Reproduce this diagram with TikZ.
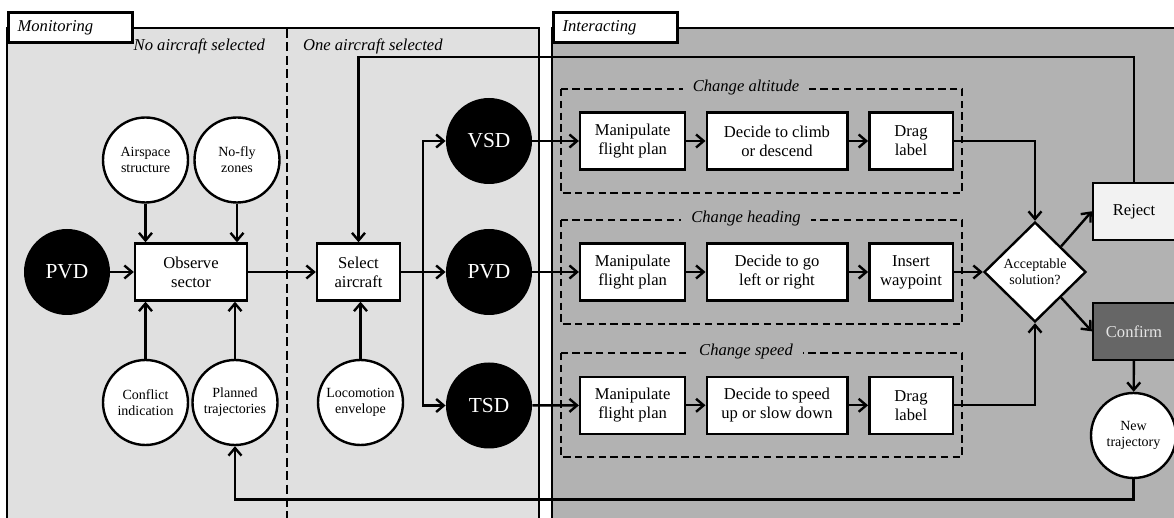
\documentclass[tikz,border=0pt]{standalone}
\usepackage{fontspec}
\setmainfont{Liberation Serif}
\usetikzlibrary{arrows.meta,shapes.geometric}

\definecolor{monitorgray}{gray}{0.88}
\definecolor{interactgray}{gray}{0.70}
\definecolor{rejectgray}{gray}{0.95}
\definecolor{confirmgray}{gray}{0.40}

\begin{document}
\begin{tikzpicture}[x=0.5pt,y=-0.5pt,
  flow/.style={line width=1.2pt,-{Straight Barb[length=3.8pt,width=6.5pt]}},
  stepbox/.style={draw,fill=white,line width=1.2pt,minimum height=28.5pt,inner sep=0pt,align=center,font=\fontsize{8.3}{9.6}\selectfont},
  source/.style={circle,draw,fill=white,line width=1.2pt,minimum size=42.5pt,inner sep=0pt,align=center,font=\fontsize{7}{8}\selectfont},
  display/.style={circle,fill=black,text=white,minimum size=43pt,inner sep=0pt,font=\fontsize{10.7}{12}\selectfont},
  decision/.style={diamond,draw,fill=white,line width=1.2pt,minimum width=51pt,minimum height=50pt,inner sep=0pt,align=center,font=\fontsize{7}{8}\selectfont},
  tab/.style={draw,fill=white,line width=1.6pt,minimum height=15pt,text width=53pt,inner xsep=4.5pt,align=left,anchor=north west,font=\fontsize{8.3}{10}\selectfont\itshape},
  groupbox/.style={line width=0.9pt,dash pattern=on 3.7pt off 2.2pt},
  grouplabel/.style={fill=interactgray,inner xsep=5pt,inner ysep=1pt,font=\fontsize{8.3}{10}\selectfont\itshape},
  phase/.style={font=\fontsize{8.3}{10}\selectfont\itshape}
]
\clip (0,0) rectangle (1174,518);

% panels
\draw[line width=1.2pt,fill=monitorgray] (7,28) rectangle (539,540);
\draw[line width=1.2pt,fill=interactgray] (552,28) rectangle (1200,540);
\node[tab] (montab) at (7,11) {Monitoring};
\node[tab] (inttab) at (552,11) {Interacting};
\draw[line width=1.1pt,dash pattern=on 4.5pt off 2.2pt] (287,29) -- (287,518);
\node[phase,anchor=east] (nosel) at (272,46) {No aircraft selected};
\node[phase,anchor=west] (onesel) at (296,46) {One aircraft selected};

% interaction groups
\draw[groupbox] (561,89) rectangle (962,193);
\draw[groupbox] (561,220) rectangle (962,324);
\draw[groupbox] (561,353) rectangle (962,457);
\node[grouplabel] (altlabel) at (746,88) {Change altitude};
\node[grouplabel] (headlabel) at (746,219) {Change heading};
\node[grouplabel] (speedlabel) at (746,352) {Change speed};

% monitoring
\node[display] (pvdl) at (67,272) {PVD};
\node[stepbox,minimum width=56pt] (observe) at (191,272) {Observe\\sector};
\node[source] (airspace) at (145.5,160) {Airspace\\structure};
\node[source] (nofly) at (237,160) {No-fly\\zones};
\node[source] (conflict) at (145.5,402.5) {Conflict\\indication};
\node[source] (planned) at (235,402.5) {Planned\\trajectories};
\node[stepbox,minimum width=41.5pt] (select) at (358.5,272) {Select\\aircraft};
\node[source] (loco) at (360.5,402.5) {Locomotion\\envelope};
\node[display] (vsd) at (489,141) {VSD};
\node[display] (pvdr) at (489,272) {PVD};
\node[display] (tsd) at (489,405.5) {TSD};
\coordinate (split) at (423,272);

% interacting
\node[stepbox,minimum width=52.5pt] (manipa) at (632.6,141) {Manipulate\\flight plan};
\node[stepbox,minimum width=70.3pt] (climb) at (777,141) {Decide to climb\\or descend};
\node[stepbox,minimum width=41.7pt] (draga) at (911,141) {Drag\\label};
\node[stepbox,minimum width=52.5pt] (manipb) at (632.6,272) {Manipulate\\flight plan};
\node[stepbox,minimum width=70.3pt] (turn) at (777,272) {Decide to go\\left or right};
\node[stepbox,minimum width=41.7pt] (insert) at (911,272) {Insert\\waypoint};
\node[stepbox,minimum width=52.5pt] (manipc) at (632.6,405.3) {Manipulate\\flight plan};
\node[stepbox,minimum width=70.3pt] (speed) at (777,405.3) {Decide to speed\\up or slow down};
\node[stepbox,minimum width=41.7pt] (dragc) at (911,405.3) {Drag\\label};
\node[decision] (accept) at (1035,272) {Acceptable\\solution?};
\node[stepbox,minimum width=41pt,fill=rejectgray] (reject) at (1134,211.3) {Reject};
\node[stepbox,minimum width=41pt,fill=confirmgray,text=white!90!black] (confirm) at (1134,331.3) {Confirm};
\node[source] (newtraj) at (1133.5,435.5) {New\\trajectory};
\coordinate (topline) at (0,57.3);
\coordinate (botline) at (0,499.5);

% connectors
\draw[flow] (pvdl) -- (observe);
\draw[flow] (airspace) -- (airspace |- observe.north);
\draw[flow] (nofly) -- (nofly |- observe.north);
\draw[flow] (conflict) -- (conflict |- observe.south);
\draw[flow] (planned) -- (planned |- observe.south);
\draw[flow] (observe) -- (select);
\draw[flow] (loco) -- (loco |- select.south);
\draw[flow] (select) -- (pvdr);
\draw[flow] (split) |- (vsd);
\draw[flow] (split) |- (tsd);

\draw[flow] (vsd) -- (manipa);
\draw[flow] (manipa) -- (climb);
\draw[flow] (climb) -- (draga);
\draw[flow] (pvdr) -- (manipb);
\draw[flow] (manipb) -- (turn);
\draw[flow] (turn) -- (insert);
\draw[flow] (tsd) -- (manipc);
\draw[flow] (manipc) -- (speed);
\draw[flow] (speed) -- (dragc);

\draw[flow] (draga.east) -| (accept.north);
\draw[flow] (insert) -- (accept);
\draw[flow] (dragc.east) -| (accept.south);
\draw[flow] (accept.north east) -- (reject.west);
\draw[flow] (accept.south east) -- (confirm.west);
\draw[flow] (confirm) -- (newtraj);

% feedback loops
\draw[flow] (reject.north) -- (reject.north |- topline) -- (select.north |- topline) -- (select.north);
\draw[flow] (newtraj.south) -- (newtraj.south |- botline) -- (planned.south |- botline) -- (planned.south);

\end{tikzpicture}
\end{document}
